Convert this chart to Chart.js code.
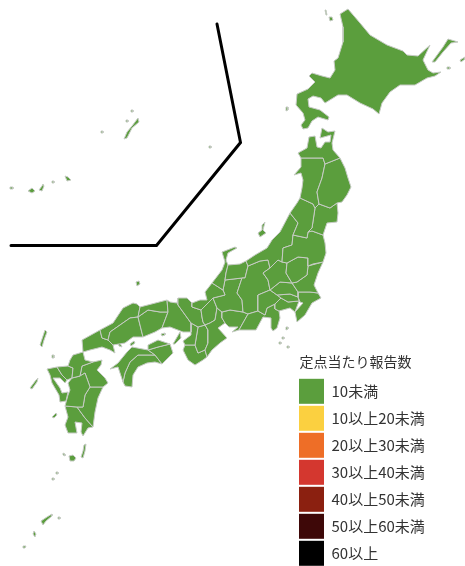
<!DOCTYPE html>
<html>
<head>
<meta charset="utf-8">
<title>定点当たり報告数</title>
<script src="https://cdn.jsdelivr.net/npm/chart.js@4/dist/chart.umd.min.js"></script>
<style>
  html, body { margin: 0; padding: 0; background: #fff; }
  #map { display: block; }
</style>
</head>
<body>
<canvas id="map" width="465" height="566"></canvas>
<script>
// ─── LEGEND ──────────────────────────────────────────────
const legendTitle  = '定点当たり報告数';
const legendLabels = ['10未満', '10以上20未満', '20以上30未満', '30以上40未満', '40以上50未満', '50以上60未満', '60以上'];
const legendColors = ['#5b9e3d', '#fbd040', '#ee6e27', '#d4372f', '#8b2010', '#3e0808', '#000000'];

// every prefecture is below 10, so they all take the first class
const prefClass = 0;

// ─── PREFECTURE OUTLINES (picture units) ─────────────────
const hokkaido  = [[348,9],[340,14],[343,27],[343,42],[338,58],[334,61],[335,70],[330,78],[322,76],[312,73],[309,76],[315,82],[308,89],[297,94],[296,105],[303,113],[305,120],[301,125],[303,129],[308,128],[312,121],[318,117],[328,120],[329,117],[320,110],[309,107],[308,99],[313,96],[321,98],[325,103],[338,95],[347,95],[360,103],[373,109],[379,114],[382,103],[390,92],[400,85],[415,85],[427,78],[435,76],[441,72],[433,73],[428,70],[423,60],[430,45],[418,56],[407,55],[403,51],[387,45],[370,35],[360,23]];
const aomori    = [[309,137],[315,136],[317,147],[321,148],[325,142],[330,142],[331,135],[320,138],[322,128],[328,132],[335,131],[332,143],[333,150],[340,158],[325,164],[323,158],[312,158],[301,158],[298,153],[307,148]];
const iwate     = [[325,164],[340,158],[345,168],[348,178],[351,187],[347,195],[342,202],[337,203],[330,208],[319,204],[317,192],[322,178]];
const akita     = [[301,158],[312,158],[323,158],[325,164],[322,178],[317,192],[319,204],[315,208],[313,204],[300,198],[302,188],[303,180],[301,173],[294,175],[301,167]];
const yamagata  = [[300,198],[313,204],[315,208],[312,228],[308,232],[307,238],[293,235],[298,223],[290,213],[297,203]];
const miyagi    = [[319,204],[330,208],[337,203],[338,213],[337,222],[327,223],[323,235],[312,231],[308,232],[312,228],[315,208]];
const fukushima = [[293,235],[307,238],[308,232],[312,231],[323,235],[325,243],[326,253],[323,262],[313,264],[308,266],[308,258],[298,257],[287,263],[282,262],[283,248],[292,245]];
const niigata   = [[290,213],[298,223],[293,235],[292,245],[283,248],[282,262],[278,260],[270,268],[268,260],[260,261],[248,266],[246,261],[255,255],[267,248],[272,240],[280,232]];
const tochigi   = [[287,263],[298,257],[308,258],[308,266],[307,275],[297,282],[292,283],[286,273]];
const ibaraki   = [[308,266],[323,262],[318,273],[314,285],[318,293],[310,292],[298,292],[292,283],[297,282],[307,275]];
const gunma     = [[263,273],[270,268],[278,260],[282,262],[287,263],[286,273],[292,283],[280,282],[270,290],[268,280]];
const saitama   = [[270,290],[280,282],[292,283],[298,292],[298,297],[290,294],[277,295]];
const tokyo     = [[277,295],[290,294],[298,297],[299,301],[288,302],[281,298]];
const chiba     = [[298,292],[310,292],[318,293],[321,298],[312,303],[305,315],[297,322],[295,312],[303,303],[300,302],[298,297]];
const kanagawa  = [[275,304],[281,298],[288,302],[299,301],[295,312],[290,308],[279,311],[275,309]];
const yamanashi = [[258,295],[270,290],[277,295],[281,298],[275,304],[267,308],[265,315],[258,311]];
const shizuoka  = [[258,311],[265,315],[267,308],[275,304],[275,309],[279,311],[280,318],[277,328],[273,331],[271,328],[271,318],[263,317],[256,330],[239,330],[248,314]];
const nagano    = [[248,266],[260,261],[268,260],[270,268],[263,273],[268,280],[270,290],[258,295],[258,311],[248,314],[243,312],[242,300],[237,293],[242,278],[245,278]];
const toyama    = [[228,265],[240,264],[246,261],[248,266],[245,278],[242,278],[225,280],[226,273]];
const ishikawa  = [[222,252],[235,247],[237,248],[228,253],[226,260],[228,265],[226,273],[225,280],[223,290],[212,283],[222,270],[225,262]];
const fukui     = [[205,292],[212,283],[223,290],[225,295],[213,298],[201,310],[192,307],[192,303],[200,300],[207,300]];
const gifu      = [[225,280],[242,278],[237,293],[242,300],[243,312],[230,310],[222,312],[217,308],[213,298],[225,295],[223,290]];
const aichi     = [[222,312],[230,310],[243,312],[248,314],[239,330],[232,332],[238,327],[229,327],[225,323],[222,318]];
const mie       = [[217,308],[222,312],[222,318],[225,323],[218,328],[227,338],[220,343],[212,350],[207,357],[205,350],[208,343],[208,330],[205,325],[210,323],[215,320]];
const shiga     = [[201,310],[213,298],[217,308],[215,320],[210,323],[205,325],[203,322],[202,317]];
const kyoto     = [[178,298],[187,298],[192,303],[192,307],[201,310],[202,317],[203,322],[205,325],[198,327],[191,323],[178,305]];
const hyogo     = [[167,300],[170,302],[177,303],[178,298],[178,305],[191,323],[191,332],[183,332],[170,327],[162,328],[168,312]];
const osaka     = [[191,323],[198,327],[195,345],[185,345],[183,341],[191,335],[191,332]];
const nara      = [[198,327],[205,325],[208,330],[208,343],[205,350],[198,353],[195,345]];
const wakayama  = [[185,345],[195,345],[198,353],[205,350],[207,357],[203,360],[195,365],[188,360],[183,350]];
const tottori   = [[140,307],[167,300],[168,312],[160,312],[148,310],[138,317]];
const okayama   = [[138,317],[148,310],[160,312],[168,312],[162,328],[155,332],[143,337]];
const hiroshima = [[110,332],[130,318],[138,317],[143,337],[133,337],[125,343],[113,345],[108,340]];
const shimane   = [[100,330],[113,323],[123,308],[133,303],[137,304],[140,307],[138,317],[130,318],[110,332],[108,340],[102,338]];
const yamaguchi = [[82,340],[100,330],[102,338],[108,340],[113,345],[115,353],[110,350],[102,347],[90,350],[83,352]];
const kagawa    = [[148,350],[148,345],[158,340],[170,344],[158,347]];
const tokushima = [[148,350],[158,347],[170,344],[173,353],[162,364],[155,355]];
const ehime     = [[110,369],[118,363],[127,352],[132,347],[148,350],[155,355],[138,355],[130,362],[125,373],[123,382],[120,373],[118,367]];
const kochi     = [[125,373],[130,362],[138,355],[155,355],[162,364],[155,362],[147,363],[138,367],[133,375],[132,387],[125,386],[123,382]];
const fukuoka   = [[70,360],[73,355],[83,352],[85,360],[93,362],[82,366],[80,376],[72,378],[73,368],[68,366]];
const saga      = [[57,367],[68,366],[73,368],[72,378],[67,380],[62,375]];
const nagasaki  = [[47,369],[57,367],[62,375],[67,380],[65,383],[60,378],[53,378],[60,388],[62,393],[68,392],[66,401],[60,402],[59,395],[52,383],[50,375]];
const kumamoto  = [[72,378],[80,376],[85,373],[90,387],[85,395],[83,407],[77,407],[65,406],[68,395],[70,390],[68,383]];
const oita      = [[82,366],[93,362],[102,360],[101,365],[97,370],[105,378],[108,383],[103,387],[90,387],[85,373],[80,376]];
const miyazaki  = [[90,387],[103,387],[98,398],[95,412],[93,427],[85,418],[77,407],[83,407],[85,395]];
const kagoshima = [[65,406],[77,407],[85,418],[93,427],[88,428],[83,436],[81,432],[82,423],[75,422],[77,433],[68,433],[65,425],[68,417]];

// ─── ISLANDS ─────────────────────────────────────────────
const rishiri    = [[329,17],[332,17],[333,20],[330,21]];
const rebun      = [[325,10],[326,10],[327,15],[326,15]];
const okushiri   = [[286,107],[288,107],[288,110],[286,111]];
const kunashiri  = [[432,62],[443,47],[448,39],[458,42],[451,43],[443,52],[435,62]];
const etorofu    = [[460,60],[465,57],[465,59],[461,62]];
const shikotan   = [[447,67],[450,67],[450,69],[447,69]];
const sado       = [[262,225],[265,222],[263,230],[266,233],[260,237],[258,233],[262,230]];
const oki        = [[136,282],[139,281],[140,284],[137,286]];
const awaji      = [[173,344],[180,332],[181,338],[175,344]];
const shodoshima = [[161,334],[165,333],[165,335],[162,336]];
const seto1      = [[118,342],[120,343],[122,347],[119,346]];
const seto2      = [[130,344],[134,341],[135,343],[131,346]];
const tsushima   = [[40,345],[45,330],[47,332],[44,340],[42,347]];
const iki        = [[52,355],[54,355],[54,358],[52,358]];
const goto       = [[30,388],[36,380],[38,378],[37,382],[32,389]];
const koshiki    = [[52,417],[56,413],[57,415],[54,418]];
const tanegashima = [[84,445],[86,444],[85,451],[83,458],[81,457],[83,451]];
const yakushima  = [[69,456],[73,455],[76,458],[74,461],[70,461]];
const kuchinoshima = [[63,453],[65,454],[65,456],[63,455]];
const tokara1    = [[56,472],[58,472],[58,474],[56,474]];
const tokara2    = [[52,478],[54,478],[54,480],[52,480]];
const amami      = [[41,521],[47,517],[52,514],[52,516],[46,521],[43,525]];
const tokunoshima = [[58,517],[60,517],[60,519],[58,519]];
const okinoerabu = [[34,531],[36,534],[35,537],[33,534]];
const yoron      = [[23,546],[26,546],[25,548],[23,548]];
const okinawa    = [[124,139],[127,132],[132,126],[138,118],[139,122],[132,128],[127,138]];
const kumejima   = [[101,131],[103,131],[103,133],[101,133]];
const iheya      = [[131,110],[133,110],[133,112],[131,112]];
const ie         = [[126,120],[128,120],[128,122],[126,122]];
const daito      = [[209,146],[211,146],[211,148],[209,148]];
const miyako     = [[65,176],[68,177],[71,180],[67,181]];
const tarama     = [[52,181],[54,181],[54,183],[52,183]];
const ishigaki   = [[39,190],[42,186],[43,184],[44,186],[42,191]];
const iriomote   = [[28,191],[32,188],[35,191],[32,193]];
const yonaguni   = [[10,187],[13,187],[13,189],[10,189]];
const izu1       = [[286,327],[288,327],[288,329],[286,330]];
const izu2       = [[282,337],[284,337],[284,339],[282,339]];
const izu3       = [[279,342],[281,342],[281,344],[279,344]];
const izu4       = [[287,346],[289,346],[289,348],[287,348]];

const prefectures = [
  hokkaido, aomori, iwate, akita, yamagata, miyagi, fukushima, niigata, tochigi, ibaraki, gunma,
  saitama, tokyo, chiba, kanagawa, yamanashi, shizuoka, nagano, toyama, ishikawa, fukui, gifu, aichi,
  mie, shiga, kyoto, hyogo, osaka, nara, wakayama, tottori, okayama, hiroshima, shimane, yamaguchi,
  kagawa, tokushima, ehime, kochi, fukuoka, saga, nagasaki, kumamoto, oita, miyazaki, kagoshima,
  rishiri, rebun, okushiri, kunashiri, etorofu, shikotan, sado, oki, awaji, shodoshima, seto1, seto2,
  tsushima, iki, goto, koshiki, tanegashima, yakushima, kuchinoshima, tokara1, tokara2, amami,
  tokunoshima, okinoerabu, yoron, okinawa, kumejima, iheya, ie, daito, miyako, tarama, ishigaki,
  iriomote, yonaguni, izu1, izu2, izu3, izu4
];

// the bent divider that sets Okinawa apart
const insetLine = [[217,24],[240.5,142.5],[156.5,245.5],[11,245.5]];

// ─── CHART ───────────────────────────────────────────────
const toXY = pts => pts.map(p => ({ x: p[0], y: p[1] }));

const datasets = prefectures.map(pts => ({
  data: toXY([...pts, pts[0]]),
  showLine: true,
  fill: 'shape',
  backgroundColor: legendColors[prefClass],
  borderColor: '#c6cbc4',
  borderWidth: 1,
  borderJoinStyle: 'round',
  pointRadius: 0,
  tension: 0
}));

datasets.push({
  data: toXY(insetLine),
  showLine: true,
  fill: false,
  borderColor: '#000000',
  borderWidth: 3,
  borderCapStyle: 'round',
  pointRadius: 0,
  tension: 0
});

// legend sits in the lower right, away from the chart area corner
const placeLegend = {
  id: 'placeLegend',
  afterLayout(chart) {
    chart.legend.left = 297;
    chart.legend.top = 355;
    chart.legend.bottom = 620;
    chart.legend.width = 117;
  }
};

new Chart(document.getElementById('map'), {
  type: 'scatter',
  data: { datasets },
  plugins: [placeLegend],
  options: {
    responsive: false,
    animation: false,
    events: [],
    layout: { padding: 0 },
    scales: {
      x: { display: false, min: 0, max: 465 },
      y: { display: false, min: 0, max: 566, reverse: true }
    },
    plugins: {
      tooltip: { enabled: false },
      legend: {
        position: 'chartArea',
        align: 'start',
        title: {
          display: true,
          text: legendTitle,
          color: '#333333',
          padding: { top: 0, bottom: 5 },
          font: { family: "'Noto Sans CJK JP', sans-serif", size: 14 }
        },
        labels: {
          boxWidth: 25,
          boxHeight: 25,
          padding: 2,
          color: '#444444',
          font: { family: "'Noto Sans CJK JP', sans-serif", size: 15 },
          generateLabels: () => legendLabels.map((text, i) => ({
            text,
            fillStyle: legendColors[i],
            strokeStyle: legendColors[i],
            lineWidth: 0,
            hidden: false,
            datasetIndex: i
          }))
        }
      }
    }
  }
});
</script>
</body>
</html>
